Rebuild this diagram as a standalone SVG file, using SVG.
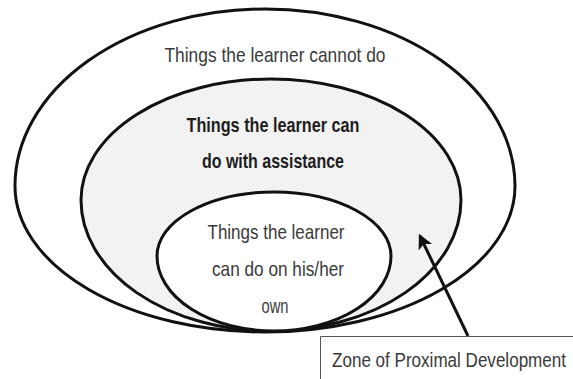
<svg xmlns="http://www.w3.org/2000/svg" width="573" height="379" viewBox="0 0 573 379">
<defs>
<pattern id="dots" width="4" height="4" patternUnits="userSpaceOnUse">
<rect width="4" height="4" fill="#f6f6f6"/>
<circle cx="1" cy="1" r="0.7" fill="#dedede"/>
<circle cx="3" cy="3" r="0.7" fill="#e3e3e3"/>
</pattern>
<marker id="arr" viewBox="0 0 12 12" refX="10" refY="6" markerWidth="5" markerHeight="5" orient="auto" markerUnits="strokeWidth">
<path d="M0,0 L12,6 L0,12 L3,6 Z" fill="#111"/>
</marker>
</defs>
<style>
.ring{stroke:#111;stroke-width:3;}
.t{font-family:"Liberation Sans","Noto Sans",sans-serif;font-size:21px;fill:#3a3a3a;text-anchor:middle;}
.b{font-weight:bold;fill:#1e1e1e;}
.conn{stroke:#111;stroke-width:3;fill:none;}
</style>
<rect width="573" height="379" fill="#ffffff"/>
<g id="outer">
<path class="ring" fill="#ffffff" d="M15,186 A250,177 0 0 1 515,186 A250,146 0 0 1 15,186 Z"/>
<text class="t" x="275" y="62" textLength="221" lengthAdjust="spacingAndGlyphs">Things the learner cannot do</text>
</g>
<g id="middle">
<path class="ring" fill="url(#dots)" d="M81,200 A190,121 0 0 1 461,200 A190,131 0 0 1 81,200 Z"/>
<text class="t b" x="273" y="132" textLength="173" lengthAdjust="spacingAndGlyphs">Things the learner can</text>
<text class="t b" x="273" y="168" textLength="142" lengthAdjust="spacingAndGlyphs">do with assistance</text>
</g>
<g id="inner">
<path class="ring" fill="#ffffff" d="M157,256 A117,64 0 0 1 391,256 A117,75 0 0 1 157,256 Z"/>
<text class="t" x="276" y="239" textLength="137" lengthAdjust="spacingAndGlyphs">Things the learner</text>
<text class="t" x="278" y="276" textLength="132" lengthAdjust="spacingAndGlyphs">can do on his/her</text>
<text class="t" x="275" y="313" textLength="27" lengthAdjust="spacingAndGlyphs">own</text>
</g>
<g id="connectors">
<line class="conn" x1="468" y1="336" x2="420" y2="236" marker-end="url(#arr)"/>
</g>
<g id="zpd">
<path d="M320.5,379 V336.5 H573" fill="none" stroke="#555" stroke-width="1"/>
<text class="t" transform="translate(449,367) scale(1,1.2)" x="0" y="0" style="font-size:17.5px" textLength="234" lengthAdjust="spacingAndGlyphs">Zone of Proximal Development</text>
</g>
</svg>
